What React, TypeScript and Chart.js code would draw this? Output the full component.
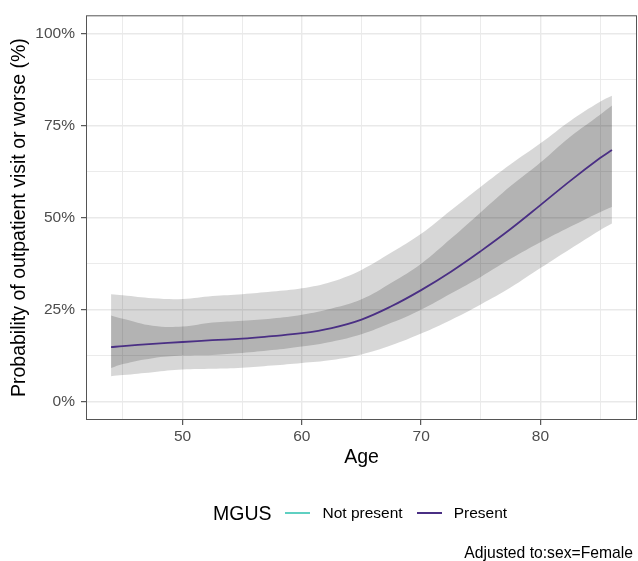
import React, { useEffect, useRef } from "react";
import { Chart, registerables } from "chart.js";

Chart.register(...registerables);

// Age grid where the curves were read
const ages = [44, 45, 47.5, 50, 52.5, 55, 57.5, 60, 62.5, 65, 67.5, 70, 72.5, 75, 77.5, 80, 82.5, 85, 86];
// Predicted probability (%) for MGUS = Present
const present = [14.8, 15.1, 15.7, 16.2, 16.7, 17.1, 17.8, 18.6, 20.0, 22.3, 25.9, 30.3, 35.3, 40.9, 46.9, 53.4, 60.0, 66.2, 68.4];
// Inner (darker) interval
const innerUpper = [23.4, 22.5, 20.6, 20.4, 21.5, 22.0, 22.6, 23.6, 25.3, 27.8, 32.3, 37.5, 44.3, 51.5, 58.6, 65.0, 72.0, 78.0, 80.5];
const innerLower = [9.1, 10.2, 11.8, 12.5, 12.7, 13.2, 14.0, 15.0, 16.3, 18.3, 21.4, 25.0, 29.4, 33.9, 38.8, 43.3, 47.5, 51.5, 52.9];
// Outer (lighter) interval
const outerUpper = [29.2, 28.9, 28.1, 27.9, 28.7, 29.2, 29.9, 30.8, 32.6, 35.8, 40.5, 45.6, 52.0, 58.4, 64.5, 70.2, 76.3, 81.5, 83.1];
const outerLower = [6.9, 7.2, 8.0, 8.7, 8.9, 9.2, 9.8, 10.5, 11.3, 12.8, 15.3, 18.5, 22.2, 26.4, 31.0, 36.3, 41.5, 46.6, 48.4];

const xTicks = [45, 50, 55, 60, 65, 70, 75, 80, 85];
const xMajor = [50, 60, 70, 80];
const yTicks = [0, 12.5, 25, 37.5, 50, 62.5, 75, 87.5, 100];
const yMajor = [0, 25, 50, 75, 100];

const legendTitle = "MGUS";
const legendLabels = ["Not present", "Present"];
const legendColors = ["#5fd0c2", "#4a2f84"];
const caption = "Adjusted to:sex=Female";

const FONT = "'Liberation Sans', Arial, Helvetica, sans-serif";

const toPts = (vals: number[]) => vals.map((v, i) => ({ x: ages[i], y: v }));

const borderPlugin = {
  id: "panelBorder",
  afterDraw(chart: any) {
    const { ctx, chartArea } = chart;
    ctx.save();
    ctx.strokeStyle = "#555555";
    ctx.lineWidth = 1;
    ctx.strokeRect(chartArea.left + 0.5, chartArea.top + 0.5, chartArea.right - chartArea.left - 1, chartArea.bottom - chartArea.top - 1);
    ctx.restore();
  },
};

export default function App() {
  const ref = useRef<HTMLCanvasElement | null>(null);

  useEffect(() => {
    if (!ref.current) return;
    const isMajorX = (v: number) => xMajor.includes(v);
    const isMajorY = (v: number) => yMajor.includes(v);
    const band = (vals: number[], fill: any, bg?: string) => ({
      label: "band",
      data: toPts(vals),
      borderWidth: 0,
      borderColor: "rgba(0,0,0,0)",
      backgroundColor: bg || "rgba(0,0,0,0)",
      pointRadius: 0,
      fill,
      tension: 0.4,
    });
    const chart = new Chart(ref.current, {
      type: "line",
      data: {
        datasets: [
          {
            label: "Present",
            data: toPts(present),
            borderColor: legendColors[1],
            borderWidth: 1.8,
            pointRadius: 0,
            fill: false,
            tension: 0.4,
          },
          band(innerUpper, "+1", "rgba(0,0,0,0.17)"),
          band(innerLower, false),
          band(outerUpper, "+1", "rgba(0,0,0,0.155)"),
          band(outerLower, false),
        ],
      },
      options: {
        responsive: false,
        animation: false,
        layout: { padding: { top: 14, right: 1, left: 0, bottom: 91 } },
        plugins: { legend: { display: false }, tooltip: { enabled: false } },
        scales: {
          x: {
            type: "linear",
            min: 41.9,
            max: 88.1,
            afterFit: (s: any) => {
              s.height = 50;
            },
            afterBuildTicks: (s: any) => {
              s.ticks = xTicks.map((v) => ({ value: v }));
            },
            ticks: {
              autoSkip: false,
              maxRotation: 0,
              padding: 2,
              color: "#4d4d4d",
              font: { family: FONT, size: 15.5 },
              callback: (v: any) => (isMajorX(Number(v)) ? String(v) : ""),
            },
            grid: {
              color: "#e9e9e9",
              lineWidth: (c: any) => (c.tick && isMajorX(c.tick.value) ? 1.4 : 0.9),
              tickColor: (c: any) => (c.tick && isMajorX(c.tick.value) ? "#333333" : "rgba(0,0,0,0)"),
              tickLength: 5,
              tickWidth: 1,
            },
            border: { display: false },
            title: {
              display: true,
              text: "Age",
              color: "#000000",
              font: { family: FONT, size: 19.5 },
              padding: { top: 0, bottom: 1 },
            },
          },
          y: {
            type: "linear",
            min: -5,
            max: 105,
            afterFit: (s: any) => {
              s.width = 86;
            },
            afterBuildTicks: (s: any) => {
              s.ticks = yTicks.map((v) => ({ value: v }));
            },
            ticks: {
              autoSkip: false,
              padding: 6,
              color: "#4d4d4d",
              font: { family: FONT, size: 15.5 },
              callback: (v: any) => (isMajorY(Number(v)) ? `${v}%` : ""),
            },
            grid: {
              color: "#e9e9e9",
              lineWidth: (c: any) => (c.tick && isMajorY(c.tick.value) ? 1.4 : 0.9),
              tickColor: (c: any) => (c.tick && isMajorY(c.tick.value) ? "#333333" : "rgba(0,0,0,0)"),
              tickLength: 5,
              tickWidth: 1,
            },
            border: { display: false },
            title: {
              display: true,
              text: "Probability of outpatient visit or worse (%)",
              color: "#000000",
              font: { family: FONT, size: 19.5 },
              padding: { top: 8, bottom: 0 },
            },
          },
        },
      },
      plugins: [borderPlugin],
    } as any);
    return () => chart.destroy();
  }, []);

  const lineKey = (color: string) => (
    <span style={{ display: "inline-block", width: 25, height: 2, background: color }} />
  );

  return (
    <div style={{ position: "absolute", left: 0, top: 0, width: 638, height: 561, background: "#fff", fontFamily: FONT }}>
      <canvas ref={ref} width={638} height={561} style={{ display: "block" }} />
      <div
        style={{
          position: "absolute",
          left: 213,
          top: 500,
          height: 26,
          display: "flex",
          alignItems: "center",
          whiteSpace: "nowrap",
        }}
      >
        <span style={{ fontSize: 19.5, color: "#000" }}>{legendTitle}</span>
        <span style={{ width: 13 }} />
        {lineKey(legendColors[0])}
        <span style={{ width: 13 }} />
        <span style={{ fontSize: 15.5, color: "#000" }}>{legendLabels[0]}</span>
        <span style={{ width: 14 }} />
        {lineKey(legendColors[1])}
        <span style={{ width: 12 }} />
        <span style={{ fontSize: 15.5, color: "#000" }}>{legendLabels[1]}</span>
      </div>
      <div
        style={{
          position: "absolute",
          right: 5,
          top: 543,
          height: 20,
          lineHeight: "20px",
          fontSize: 15.7,
          color: "#000",
          whiteSpace: "nowrap",
        }}
      >
        {caption}
      </div>
    </div>
  );
}
